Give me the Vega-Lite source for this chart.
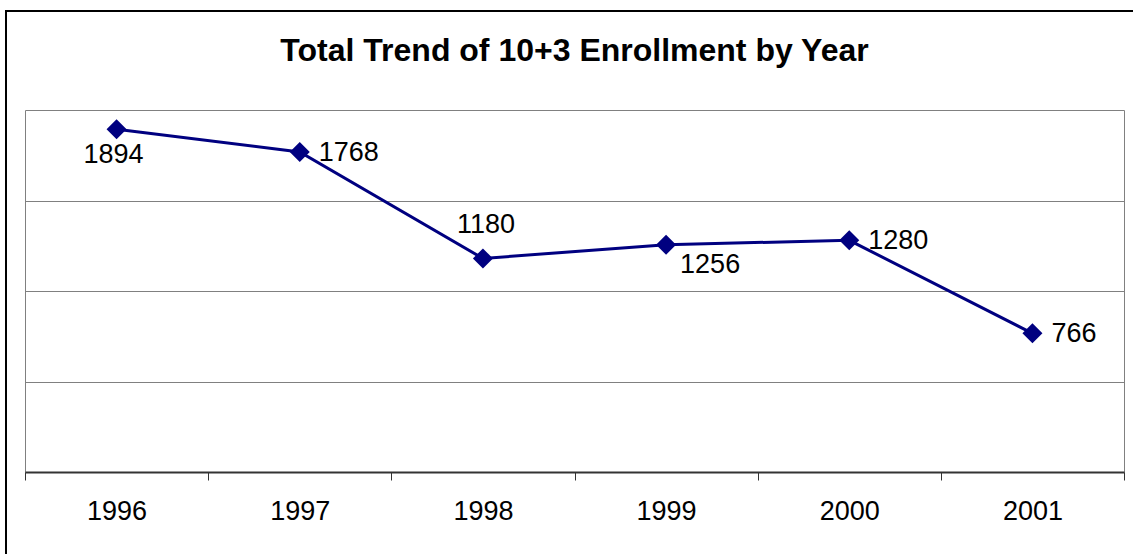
{
  "$schema": "https://vega.github.io/schema/vega-lite/v6.json",
  "width": 1099,
  "height": 362,
  "autosize": {"type": "none"},
  "padding": {"left": 25, "top": 110, "right": 16, "bottom": 82},
  "background": "white",
  "title": {
    "text": "Total Trend of 10+3 Enrollment by Year",
    "fontSize": 32,
    "fontWeight": "bold",
    "font": "Liberation Sans",
    "color": "black",
    "anchor": "middle",
    "baseline": "alphabetic",
    "offset": -84
  },
  "config": {
    "view": {"stroke": "#808080", "strokeWidth": 1},
    "font": "Liberation Sans"
  },
  "data": {
    "values": [
      {"year": 1996, "enrollment": 1894},
      {"year": 1997, "enrollment": 1768},
      {"year": 1998, "enrollment": 1180},
      {"year": 1999, "enrollment": 1256},
      {"year": 2000, "enrollment": 1280},
      {"year": 2001, "enrollment": 766}
    ]
  },
  "layer": [
    {
      "data": {"values": [{"frame": 1}]},
      "mark": {"type": "rule", "stroke": "black", "strokeWidth": 2, "clip": false},
      "encoding": {
        "x": {"value": -20},
        "x2": {"value": 1108},
        "y": {"value": -99}
      }
    },
    {
      "data": {"values": [{"frame": 1}]},
      "mark": {"type": "rule", "stroke": "black", "strokeWidth": 2, "clip": false},
      "encoding": {
        "x": {"value": -19},
        "y": {"value": -100},
        "y2": {"value": 444}
      }
    },
    {
      "encoding": {
        "x": {
          "field": "year",
          "type": "ordinal",
          "scale": {"paddingInner": 0, "paddingOuter": 0},
          "axis": {
            "title": null,
            "labelAngle": 0,
            "labelFontSize": 27,
            "labelColor": "black",
            "labelFont": "Liberation Sans",
            "labelPadding": 18,
            "tickSize": 8,
            "tickColor": "#333333",
            "domainColor": "#333333",
            "domainWidth": 2,
            "tickBand": "extent",
            "grid": false
          }
        },
        "y": {
          "field": "enrollment",
          "type": "quantitative",
          "scale": {"domain": [0, 2000], "nice": false},
          "axis": {
            "title": null,
            "labels": false,
            "ticks": false,
            "domain": false,
            "grid": true,
            "gridColor": "#808080",
            "gridWidth": 1,
            "values": [500, 1000, 1500]
          }
        }
      },
      "layer": [
        {"mark": {"type": "line", "color": "#000080", "strokeWidth": 3}},
        {"mark": {"type": "point", "shape": "diamond", "filled": true, "size": 400, "color": "#000080", "opacity": 1}},
        {
          "transform": [{"filter": {"field": "year", "oneOf": [1996]}}],
          "mark": {"type": "text", "fontSize": 27, "font": "Liberation Sans", "color": "black", "baseline": "alphabetic", "align": "center", "dx": -3, "dy": 34},
          "encoding": {"text": {"field": "enrollment", "type": "quantitative"}}
        },
        {
          "transform": [{"filter": {"field": "year", "oneOf": [1997, 2000, 2001]}}],
          "mark": {"type": "text", "fontSize": 27, "font": "Liberation Sans", "color": "black", "baseline": "alphabetic", "align": "left", "dx": 19, "dy": 9},
          "encoding": {"text": {"field": "enrollment", "type": "quantitative"}}
        },
        {
          "transform": [{"filter": {"field": "year", "oneOf": [1998]}}],
          "mark": {"type": "text", "fontSize": 27, "font": "Liberation Sans", "color": "black", "baseline": "alphabetic", "align": "center", "dx": 3, "dy": -25},
          "encoding": {"text": {"field": "enrollment", "type": "quantitative"}}
        },
        {
          "transform": [{"filter": {"field": "year", "oneOf": [1999]}}],
          "mark": {"type": "text", "fontSize": 27, "font": "Liberation Sans", "color": "black", "baseline": "alphabetic", "align": "left", "dx": 14, "dy": 28},
          "encoding": {"text": {"field": "enrollment", "type": "quantitative"}}
        }
      ]
    }
  ]
}
